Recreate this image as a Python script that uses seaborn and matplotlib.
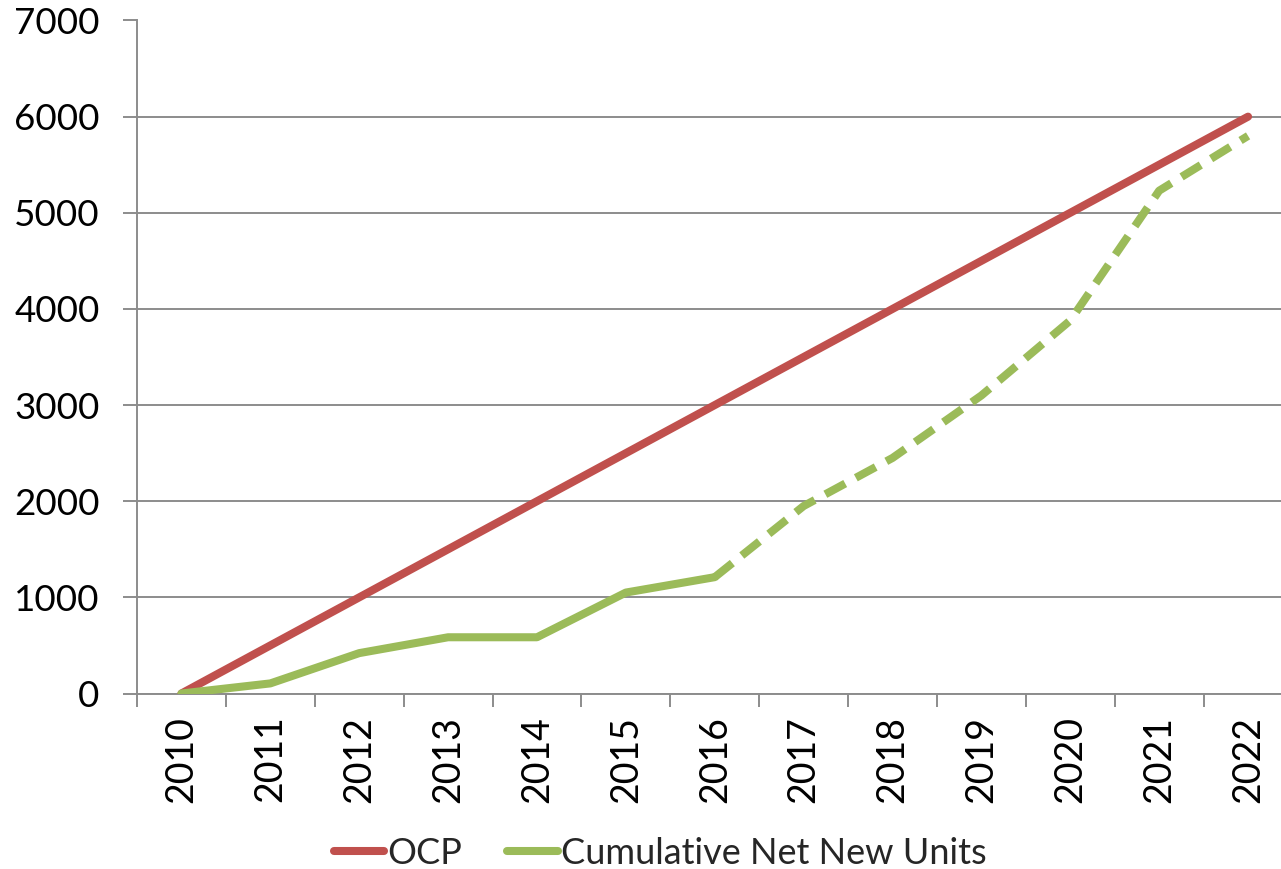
import matplotlib
matplotlib.use("Agg")
import matplotlib.pyplot as plt
import seaborn as sns
import numpy as np
import pandas as pd

# ---- data ----
years = ["2010", "2011", "2012", "2013", "2014", "2015", "2016",
         "2017", "2018", "2019", "2020", "2021", "2022"]
ocp = [0, 500, 1000, 1500, 2000, 2500, 3000, 3500, 4000, 4500, 5000, 5500, 6000]
cumulative = [0, 105, 420, 585, 585, 1050, 1210, 1950, 2450, 3100, 3880, 5230, 5800]
n_actual = 7  # 2010-2016 solid, 2016-2022 dashed projection
y_ticks = [0, 1000, 2000, 3000, 4000, 5000, 6000, 7000]

RED = "#C0504D"
GREEN = "#9BBB59"
GRID = "#8C8C8C"

sns.set_theme(style="white")
plt.rcParams["font.family"] = ["Lato", "DejaVu Sans"]

W, H = 1281, 869
fig = plt.figure(figsize=(W / 100, H / 100), dpi=100)
left, right, top, bottom = 137, 1292.5, 20.5, 693.5
ax = fig.add_axes([left / W, (H - bottom) / H, (right - left) / W, (bottom - top) / H])

lw = 5.8
sns.lineplot(x=years, y=ocp, ax=ax, color=RED, linewidth=lw, sort=False,
             label="OCP", solid_capstyle="round", zorder=3)
sns.lineplot(x=years[:n_actual], y=cumulative[:n_actual], ax=ax, color=GREEN,
             linewidth=lw, sort=False, label="Cumulative Net New Units",
             solid_capstyle="round", solid_joinstyle="round", zorder=4)
proj = sns.lineplot(x=years[n_actual - 1:], y=cumulative[n_actual - 1:], ax=ax,
                    color=GREEN, linewidth=lw, sort=False, label="_nolegend_",
                    zorder=4)
proj.lines[-1].set_dashes([2.8, 1.5])
proj.lines[-1].set_dash_capstyle("butt")

ax.set_xlim(-0.5, len(years) - 0.5)
ax.set_ylim(0, 7000)
ax.set_yticks(y_ticks)
ax.set_yticklabels([str(v) for v in y_ticks])
ax.set_xlabel("")
ax.set_ylabel("")

# grid & spines
ax.yaxis.grid(True, color=GRID, linewidth=1.4, zorder=0)
ax.xaxis.grid(False)
for s in ["top", "right"]:
    ax.spines[s].set_visible(False)
for s in ["left", "bottom"]:
    ax.spines[s].set_color(GRID)
    ax.spines[s].set_linewidth(1.4)

ax.tick_params(axis="y", which="major", length=10, width=1.4, color=GRID,
               pad=17, labelsize=26.5, labelcolor="black", left=True)
ax.set_xticks(np.arange(-0.5, len(years), 1), minor=True)
ax.tick_params(axis="x", which="major", length=0, pad=16, labelsize=27,
               labelcolor="black", labelrotation=90)
ax.tick_params(axis="x", which="minor", length=9, width=1.4, color=GRID,
               bottom=True)

handles, labels = ax.get_legend_handles_labels()
if ax.get_legend() is not None:
    ax.get_legend().remove()
fig.legend(handles, labels, loc="center", bbox_to_anchor=(660 / W, 1 - 853 / H),
           ncol=2, frameon=False, fontsize=26, handlelength=1.4,
           handletextpad=0.08, columnspacing=1.25)

fig.savefig("out.png", dpi=100)
